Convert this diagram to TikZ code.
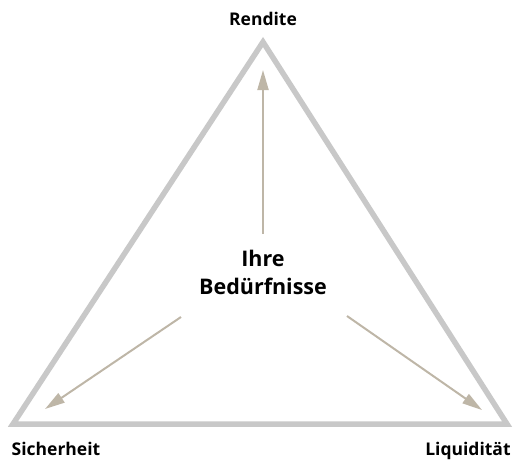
\documentclass[tikz,border=0pt]{standalone}
\usepackage{fontspec}
\setmainfont{Open Sans}
\usetikzlibrary{arrows.meta}
\definecolor{edgegray}{HTML}{C8C8C8}
\definecolor{arrowtan}{HTML}{BEB6A7}
\begin{document}
\begin{tikzpicture}[x=1pt,y=-1pt,
		corner/.style={font=\bfseries\fontsize{17.5}{20}\selectfont,anchor=base},
		pull/.style={arrowtan,line width=2pt,-{Triangle[length=20pt,width=11pt]}}]
	\useasboundingbox(0,0)rectangle(516,461);
	\draw[edgegray,line width=5.5pt,line join=miter](263,42)--(13,424)--(507,424)--cycle;
	\node[font=\bfseries\fontsize{21.5}{28}\selectfont,align=center](needs)at(263,272){Ihre\\Bedürfnisse};
	\node[corner](rendite)at(263,25){Rendite};
	\node[corner](sicherheit)at(56,455){Sicherheit};
	\node[corner](liquiditaet)at(468,455){Liquidität};
	\coordinate(fromR)at(263,234);
	\coordinate(toR)at(263,70);
	\coordinate(fromS)at(181,317);
	\coordinate(toS)at(45,409);
	\coordinate(fromL)at(347,316);
	\coordinate(toL)at(482,410);
	\draw[pull](fromR)--(toR);
	\draw[pull](fromS)--(toS);
	\draw[pull](fromL)--(toL);
\end{tikzpicture}
\end{document}
